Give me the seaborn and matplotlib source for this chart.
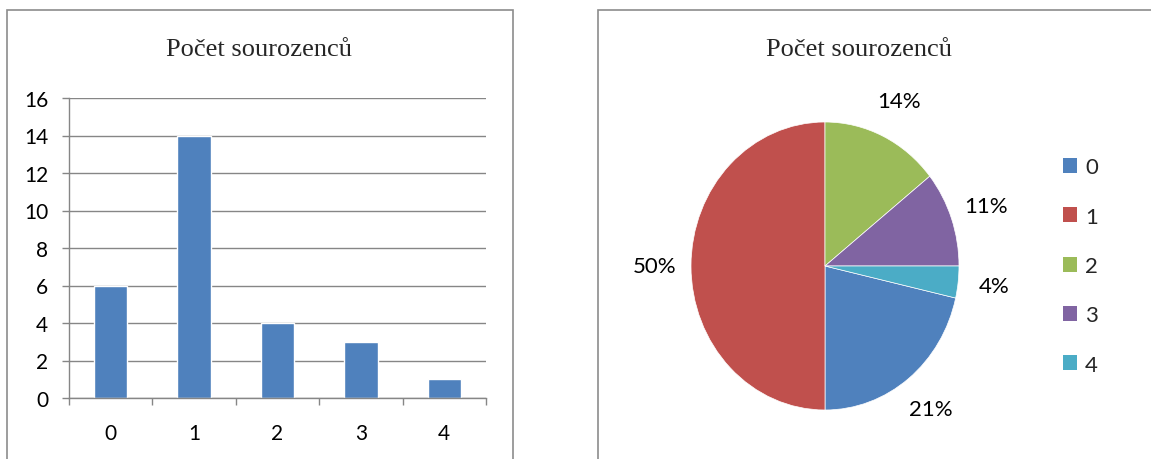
import matplotlib
matplotlib.use("Agg")
import matplotlib.pyplot as plt
from matplotlib.patches import Rectangle, Patch
from matplotlib.ticker import MultipleLocator, FixedLocator
import seaborn as sns
import pandas as pd

categories = ["0", "1", "2", "3", "4"]
counts = [6, 14, 4, 3, 1]
colors = ["#4F81BD", "#C0504D", "#9BBB59", "#8064A2", "#4BACC6"]
title = "Počet sourozenců"

sns.set_theme(style="white")
plt.rcParams["font.family"] = ["Lato", "DejaVu Sans"]

W, H = 1151, 460
fig = plt.figure(figsize=(W / 100, H / 100), dpi=100)
fig.patch.set_facecolor("white")

grid_c = "#868686"

# panel borders
fig.add_artist(Rectangle((7 / W, -0.05), (513 - 7) / W, (460 - 11) / H + 0.05,
                         transform=fig.transFigure, fill=False, edgecolor="#8c8c8c", lw=1.2))
fig.add_artist(Rectangle((598 / W, -0.05), (1200 - 598) / W, (460 - 11) / H + 0.05,
                         transform=fig.transFigure, fill=False, edgecolor="#8c8c8c", lw=1.2))

# ---- bar chart ----
ax1 = fig.add_axes([69 / W, (460 - 399) / H, (486 - 69) / W, 300 / H])
df = pd.DataFrame({"cat": categories, "n": counts})
sns.barplot(data=df, x="cat", y="n", color=colors[0], width=0.4, saturation=1, ax=ax1)
ax1.set_ylim(0, 16)
ax1.set_xlim(-0.5, 4.5)
ax1.yaxis.set_major_locator(MultipleLocator(2))
ax1.set_xlabel("")
ax1.set_ylabel("")
ax1.grid(axis="y", color=grid_c, lw=1.0)
ax1.set_axisbelow(True)
for s in ["top", "right"]:
    ax1.spines[s].set_visible(False)
for s in ["left", "bottom"]:
    ax1.spines[s].set_color(grid_c)
    ax1.spines[s].set_linewidth(1.0)
ax1.tick_params(axis="y", which="major", length=5, width=1.0, color=grid_c, pad=10, labelsize=15,
                labelcolor="black", left=True, direction="out")
ax1.tick_params(axis="x", which="major", length=0, pad=18, labelsize=15, labelcolor="black")
ax1.xaxis.set_minor_locator(FixedLocator([-0.5, 0.5, 1.5, 2.5, 3.5, 4.5]))
ax1.tick_params(axis="x", which="minor", length=5, width=1.0, color=grid_c, bottom=True, direction="out")

fig.text(259 / W, (460 - 50) / H, title, ha="center", va="center",
         fontsize=19, family=["Liberation Serif", "DejaVu Serif"])

# ---- pie chart ----
ax2 = fig.add_axes([625 / W, 3 / H, 400 / W, 380 / H])
start = 90 - 360 * sum(counts[2:]) / sum(counts)
ax2.pie(counts, colors=colors, startangle=start, counterclock=False,
        autopct=lambda p: f"{p:.0f}%", pctdistance=1.27,
        wedgeprops=dict(linewidth=0.5, edgecolor="white"),
        textprops=dict(fontsize=16, color="black"))
ax2.set_aspect("auto")
ax2.set_xlim(-200 / 134, 200 / 134)
ax2.set_ylim(-190 / 144, 190 / 144)
ax2.axis("off")

fig.text(859 / W, (460 - 50) / H, title, ha="center", va="center",
         fontsize=19, family=["Liberation Serif", "DejaVu Serif"])

handles = [Patch(facecolor=c, edgecolor="none") for c in colors]
fig.legend(handles, categories, loc="center left", bbox_to_anchor=(1063 / W, (460 - 267) / H),
           frameon=False, fontsize=16, handlelength=0.65, handleheight=0.65,
           handletextpad=0.35, labelspacing=1.32, borderpad=0, borderaxespad=0)

fig.savefig("out.png", dpi=100, facecolor="white")
